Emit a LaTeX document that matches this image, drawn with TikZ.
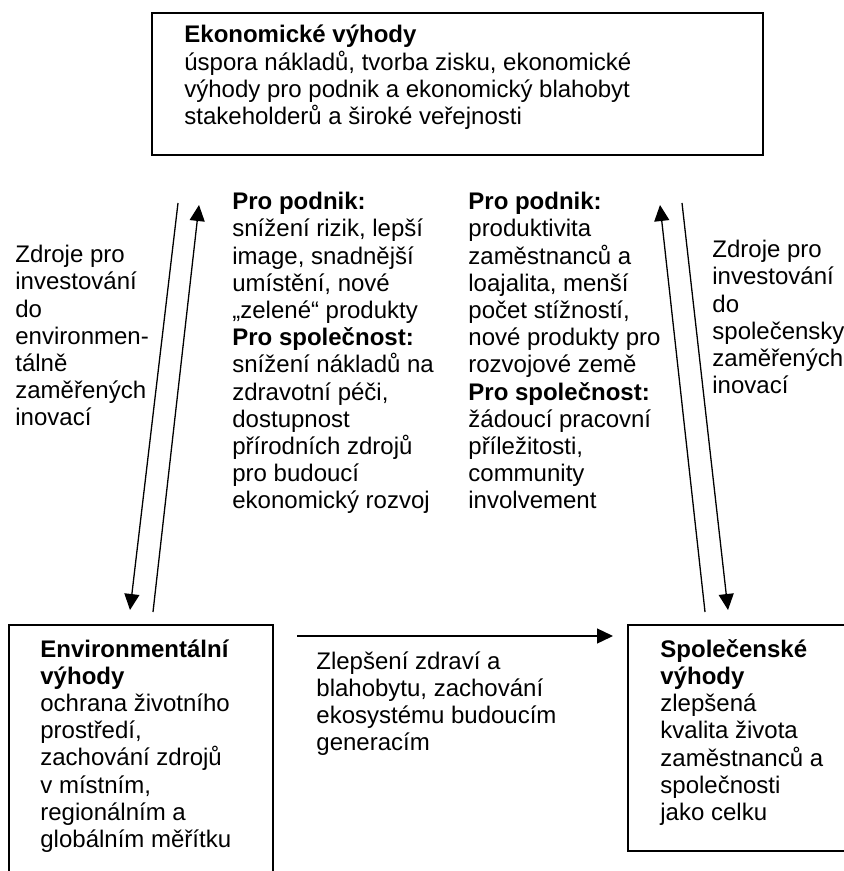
\documentclass[tikz,border=0pt]{standalone}
\usepackage{fontspec}
\setmainfont{Liberation Sans}
\usetikzlibrary{arrows.meta}

\tikzset{
    ramec/.style={line width=1pt},
    popis/.style={anchor=north west, align=left, inner sep=0pt, font=\fontsize{12}{13.6}\selectfont},
    sipka/.style={line width=0.65pt, -{Triangle[length=8pt,width=7.5pt]}}
}

\begin{document}
\begin{tikzpicture}[x=0.5pt, y=-0.5pt]
    \useasboundingbox (0,0) rectangle (844,871);
    \clip (0,0) rectangle (844,871);

    % Ekonomicke vyhody
    \draw[ramec] (152,13) rectangle (763,155);
    \node[popis] (eko) at (184,25) {
        \textbf{Ekonomické výhody}\\
        úspora nákladů, tvorba zisku, ekonomické\\
        výhody pro podnik a ekonomický blahobyt\\
        stakeholderů a široké veřejnosti
    };

    % Environmentalni vyhody
    \draw[ramec] (9,625) rectangle (273,890);
    \node[popis] (env) at (40,639) {
        \textbf{Environmentální}\\
        \textbf{výhody}\\
        ochrana životního\\
        prostředí,\\
        zachování zdrojů\\
        v místním,\\
        regionálním a\\
        globálním měřítku
    };

    % Spolecenske vyhody
    \draw[ramec] (628,625) rectangle (860,851);
    \node[popis] (spol) at (660,639) {
        \textbf{Společenské}\\
        \textbf{výhody}\\
        zlepšená\\
        kvalita života\\
        zaměstnanců a\\
        společnosti\\
        jako celku
    };

    % Zdroje pro investovani
    \node[popis] (zdrojEnv) at (15,245) {
        Zdroje pro\\
        investování\\
        do\\
        environmen-\\
        tálně\\
        zaměřených\\
        inovací
    };
    \node[popis] (zdrojSpol) at (712,240) {
        Zdroje pro\\
        investování\\
        do\\
        společensky\\
        zaměřených\\
        inovací
    };

    % Prinosy pro podnik a spolecnost
    \node[popis] (prinosEnv) at (232,192) {
        \textbf{Pro podnik:}\\
        snížení rizik, lepší\\
        image, snadnější\\
        umístění, nové\\
        „zelené“ produkty\\
        \textbf{Pro společnost:}\\
        snížení nákladů na\\
        zdravotní péči,\\
        dostupnost\\
        přírodních zdrojů\\
        pro budoucí\\
        ekonomický rozvoj
    };
    \node[popis] (prinosSpol) at (468,192) {
        \textbf{Pro podnik:}\\
        produktivita\\
        zaměstnanců a\\
        loajalita, menší\\
        počet stížností,\\
        nové produkty pro\\
        rozvojové země\\
        \textbf{Pro společnost:}\\
        žádoucí pracovní\\
        příležitosti,\\
        community\\
        involvement
    };

    % Zlepseni zdravi
    \node[popis] (zdravi) at (316,651) {
        Zlepšení zdraví a\\
        blahobytu, zachování\\
        ekosystému budoucím\\
        generacím
    };

    % Sipky
    \coordinate (ekoA) at (178,203);
    \coordinate (envA) at (130,610);
    \coordinate (envB) at (153,612);
    \coordinate (ekoB) at (199,205);
    \coordinate (spolA) at (705,612);
    \coordinate (ekoC) at (660,205);
    \coordinate (ekoD) at (682,203);
    \coordinate (spolB) at (728,610);
    \coordinate (envC) at (297,636);
    \coordinate (spolC) at (613,636);

    \draw[sipka] (ekoA) -- (envA);
    \draw[sipka] (envB) -- (ekoB);
    \draw[sipka] (spolA) -- (ekoC);
    \draw[sipka] (ekoD) -- (spolB);
    \draw[sipka] (envC) -- (spolC);
\end{tikzpicture}
\end{document}
